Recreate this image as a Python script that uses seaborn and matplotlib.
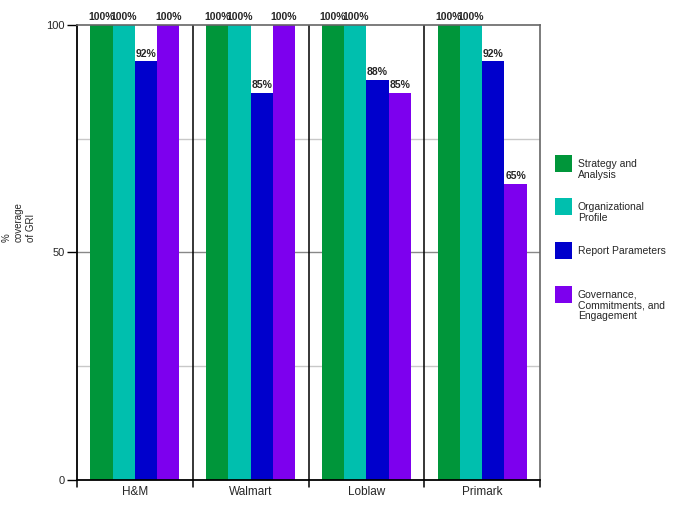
import matplotlib
matplotlib.use("Agg")
import matplotlib.pyplot as plt
from matplotlib.patches import Rectangle
import seaborn as sns
import pandas as pd

companies = ["H&M", "Walmart", "Loblaw", "Primark"]
series = ["Strategy and\nAnalysis", "Organizational\nProfile", "Report Parameters",
          "Governance,\nCommitments, and\nEngagement"]
strategy = [100, 100, 100, 100]
organizational = [100, 100, 100, 100]
report = [92, 85, 88, 92]
governance = [100, 100, 85, 65]
colors = ["#00963A", "#00BFAE", "#0000CC", "#7D00EE"]
yticks = [0, 50, 100]

rows = []
for s, vals in zip(series, [strategy, organizational, report, governance]):
    for c, v in zip(companies, vals):
        rows.append({"Company": c, "Series": s, "Value": v})
df = pd.DataFrame(rows)

sns.set_style("white")
plt.rcParams["font.family"] = ["Liberation Sans", "DejaVu Sans"]

W, H = 674, 505
fig = plt.figure(figsize=(W / 100, H / 100), dpi=100)
ax = fig.add_axes([77 / W, 1 - 480 / H, (540 - 77) / W, (480 - 25) / H])

sns.barplot(data=df, x="Company", y="Value", hue="Series", order=companies,
            hue_order=series, palette=colors, width=0.77, saturation=1,
            linewidth=0, ax=ax, legend=False)

ax.set_xlim(-0.5, len(companies) - 0.5)
ax.set_ylim(0, 100)
ax.set_yticks(yticks)
ax.set_yticklabels([str(t) for t in yticks], fontsize=8)
ax.tick_params(axis="y", length=7, width=1, color="black", pad=2, direction="out", left=True)
ax.tick_params(axis="x", length=0, labelsize=8.5, pad=4)
ax.set_xlabel("")
ax.set_ylabel("")

fig.text(19 / W, 1 - 242 / H, "%\ncoverage\nof GRI", rotation=90, ha="center", va="bottom",
         multialignment="left", fontsize=7, linespacing=1.3)

# gridlines
for y, col in [(25, "#c8c8c8"), (50, "#888888"), (75, "#c8c8c8")]:
    ax.axhline(y, color=col, lw=1, zorder=0)
# group separators
for i in range(1, len(companies)):
    ax.axvline(i - 0.5, color="black", lw=1.1, zorder=0.5)
# bottom ticks at group boundaries
for i in range(len(companies) + 1):
    ax.plot([i - 0.5, i - 0.5], [0, -1.6], color="black", lw=1.1, clip_on=False)

for side in ["left", "bottom"]:
    ax.spines[side].set_color("black")
    ax.spines[side].set_linewidth(1.3)
for side in ["top", "right"]:
    ax.spines[side].set_color("#666666")
    ax.spines[side].set_linewidth(1.2)

for cont in ax.containers:
    ax.bar_label(cont, labels=[f"{int(v)}%" for v in cont.datavalues],
                 fontsize=7.5, fontweight="bold", padding=2)

# legend (squares top-aligned with their multi-line labels)
sq = 17
x0, y0, step = 555, 155, 43.5
for i, (name, col) in enumerate(zip(series, colors)):
    top = y0 + i * step
    fig.add_artist(Rectangle((x0 / W, 1 - (top + sq) / H), sq / W, sq / H,
                             transform=fig.transFigure, color=col, lw=0))
    fig.text((x0 + sq + 6) / W, 1 - (top + 4) / H, name, ha="left", va="top",
             fontsize=7.5, linespacing=1.1)

fig.savefig("out.png", dpi=100)
